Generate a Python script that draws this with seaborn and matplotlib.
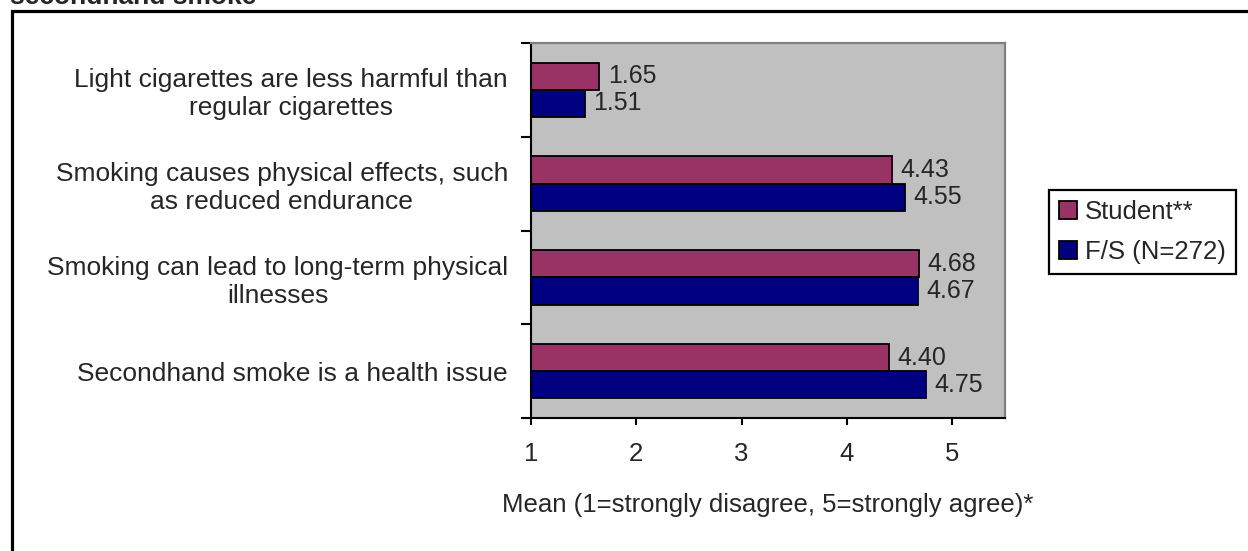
import pandas as pd
import seaborn as sns
import matplotlib.pyplot as plt
from matplotlib.patches import Rectangle

# data
statements = [
    "Light cigarettes are less harmful than\nregular cigarettes",
    "Smoking causes physical effects, such\nas reduced endurance",
    "Smoking can lead to long-term physical\nillnesses",
    "Secondhand smoke is a health issue",
]
groups = ["Student**", "F/S (N=272)"]
student = [1.65, 4.43, 4.68, 4.40]
faculty_staff = [1.51, 4.55, 4.67, 4.75]
colors = ["#993366", "#000080"]
x_ticks = [1, 2, 3, 4, 5]

df = pd.DataFrame({
    "statement": statements * 2,
    "group": [groups[0]] * len(statements) + [groups[1]] * len(statements),
    "mean": student + faculty_staff,
})

sns.set_style("ticks")
plt.rcParams["font.family"] = ["Liberation Sans", "DejaVu Sans"]
plt.rcParams["font.size"] = 18.5

W, H = 1248, 551
fig = plt.figure(figsize=(W / 100, H / 100), dpi=100)
ax = fig.add_axes([531 / W, 133 / H, 474 / W, 375 / H])
ax.set_facecolor("#C0C0C0")

sns.barplot(data=df, y="statement", x="mean", hue="group", order=statements,
            hue_order=groups, palette=colors, orient="h", width=0.58,
            saturation=1, edgecolor="black", linewidth=1.3, ax=ax)

for c in ax.containers:
    ax.bar_label(c, fmt="%.2f", padding=6, fontsize=18)

# axes
ax.set_xlim(1, 5.5)
ax.set_xticks(x_ticks)
ax.set_ylim(3.5, -0.5)
ax.set_ylabel("")
ax.set_yticks([-0.5, 0.5, 1.5, 2.5, 3.5], minor=True)
ax.tick_params(axis="y", which="major", length=0, pad=16.5, labelsize=19)
ax.tick_params(axis="y", which="minor", length=7, width=1.5, color="black", direction="out")
ax.tick_params(axis="x", length=5, width=1.5, color="black", pad=12, labelsize=18.5, direction="out")
for t in ax.get_yticklabels():
    t.set_multialignment("center")

for s in ["left", "bottom"]:
    ax.spines[s].set_color("black")
    ax.spines[s].set_linewidth(1.5)
for s in ["top", "right"]:
    ax.spines[s].set_color("#808080")
    ax.spines[s].set_linewidth(1.6)

ax.set_xlabel("Mean (1=strongly disagree, 5=strongly agree)*", fontsize=18.5)
ax.xaxis.set_label_coords(0.5, -0.232)
ax.xaxis.label.set_va("center")

# legend
sns.move_legend(ax, "center left", bbox_to_anchor=(1049 / W, (H - 232) / H),
                bbox_transform=fig.transFigure, title=None, frameon=True,
                fancybox=False, edgecolor="black", framealpha=1, fontsize=18.5,
                handlelength=0.7, handleheight=0.7, handletextpad=0.3,
                labelspacing=0.6, borderpad=0.4, borderaxespad=0)
leg = ax.get_legend()
leg.get_frame().set_linewidth(1.6)
for h in leg.legend_handles:
    h.set_edgecolor("black")
    h.set_linewidth(1.3)

# outer frame and clipped title (cut off at the top, as in the source)
fig.add_artist(Rectangle((12 / W, -0.05), 1.1, (H - 11) / H + 0.05,
                         transform=fig.transFigure, fill=False,
                         edgecolor="black", linewidth=2.3, clip_on=False))
fig.text(10 / W, (H - 4.5) / H, "secondhand smoke", fontsize=19,
         fontweight="bold", ha="left", va="baseline")

fig.savefig("out.png", dpi=100)
